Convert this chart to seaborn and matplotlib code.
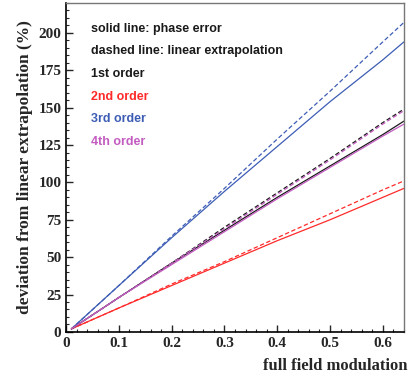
import numpy as np
import pandas as pd
import matplotlib
matplotlib.use("Agg")
import matplotlib.pyplot as plt
from matplotlib.ticker import MultipleLocator
import seaborn as sns

# field modulation values where curves are sampled
modulation = [0.01, 0.1, 0.2, 0.3, 0.4, 0.5, 0.6, 0.64]

# deviation from linear extrapolation (%)
first_phase = [2, 23, 46, 68, 90, 111, 132, 141]
first_linear = [2, 23, 46, 70, 93, 116, 140, 149]
second_phase = [2, 16, 31, 46, 61, 75, 90, 96]
second_linear = [2, 16, 32, 47, 63, 79, 95, 101]
third_phase = [2, 31, 63, 94, 124, 154, 182, 194]
third_linear = [2, 31, 64, 96, 129, 161, 194, 207]
fourth_phase = [2, 23, 45, 67, 89, 110, 131, 139]
fourth_linear = [2, 23, 46, 69, 92, 115, 139, 148]

orders = ["1st order", "2nd order", "3rd order", "4th order"]
colors = ["#1a1a1a", "#ff2a2a", "#3d5db5", "#c25cc0"]
phase = [first_phase, second_phase, third_phase, fourth_phase]
linear = [first_linear, second_linear, third_linear, fourth_linear]

sns.set_style("ticks")

fig = plt.figure(figsize=(4.08, 3.78), dpi=100)
ax = fig.add_axes([0.162, 0.122, 0.828, 0.870])

# draw order: 3rd, 2nd, 1st, 4th so purple sits on top of black
for i in [2, 1, 0, 3]:
    df = pd.DataFrame({"x": modulation, "phase": phase[i], "linear": linear[i]})
    sns.lineplot(data=df, x="x", y="linear", ax=ax, color=colors[i],
                 linestyle=(0, (3.5, 2)), linewidth=0.9)
    sns.lineplot(data=df, x="x", y="phase", ax=ax, color=colors[i],
                 linestyle="-", linewidth=0.9)

ax.set_xlim(0, 0.64)
ax.set_ylim(0, 220)
ax.xaxis.set_major_locator(MultipleLocator(0.1))
ax.xaxis.set_minor_locator(MultipleLocator(0.02))
ax.yaxis.set_major_locator(MultipleLocator(25))
ax.yaxis.set_minor_locator(MultipleLocator(5))
ax.tick_params(which="both", direction="in", top=False, right=False)
ax.tick_params(which="major", length=5, width=1)
ax.tick_params(which="minor", length=2.5, width=0.8)

serif = {"family": "Liberation Serif", "weight": "bold"}
ax.set_xticks([0, 0.1, 0.2, 0.3, 0.4, 0.5, 0.6])
ax.set_xticklabels(["0", "0.1", "0.2", "0.3", "0.4", "0.5", "0.6"], fontdict=serif, fontsize=11)
ax.set_yticks([0, 25, 50, 75, 100, 125, 150, 175, 200])
ax.set_yticklabels(["0", "25", "50", "75", "100", "125", "150", "175", "200"], fontdict=serif, fontsize=11)

ax.set_xlabel("")
ax.set_ylabel("deviation from linear extrapolation (%)", fontdict=serif, fontsize=12.5, labelpad=4)
fig.text(0.998, 0.01, "full field modulation", ha="right", va="bottom", fontdict=serif, fontsize=12)

for side in ["left", "bottom"]:
    ax.spines[side].set_color("black")
    ax.spines[side].set_linewidth(1.2)
for side in ["top", "right"]:
    ax.spines[side].set_color("#777777")
    ax.spines[side].set_linewidth(1.0)

labels = ["solid line: phase error", "dashed line: linear extrapolation"] + orders
label_colors = ["#1a1a1a", "#1a1a1a"] + colors
for k, (txt, c) in enumerate(zip(labels, label_colors)):
    ax.text(0.075, 0.922 - k * 0.069, txt, transform=ax.transAxes, color=c,
            fontsize=9, fontweight="bold", family="Liberation Sans", va="center")

fig.savefig("out.png", dpi=100)
